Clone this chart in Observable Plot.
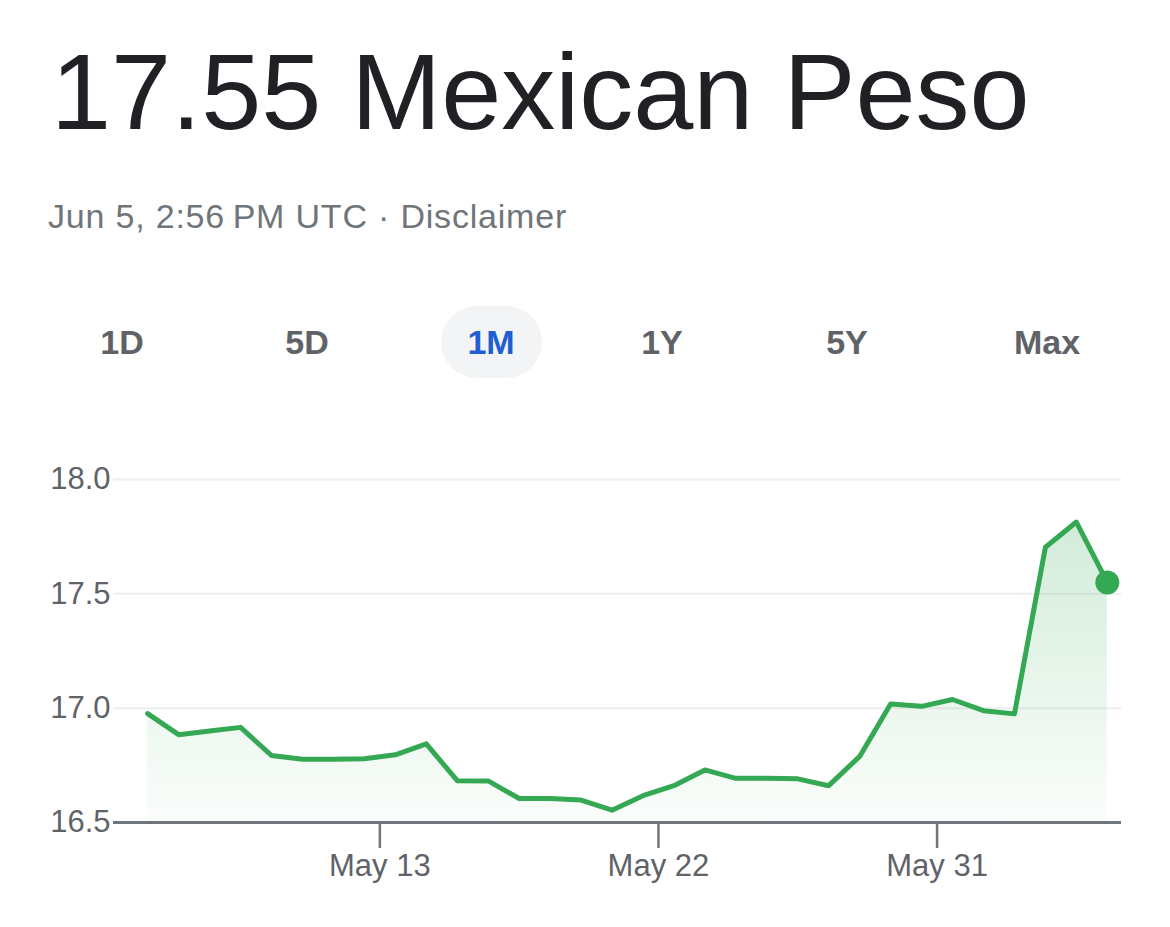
<!DOCTYPE html>
<html>
<head>
<meta charset="utf-8">
<script src="https://cdn.jsdelivr.net/npm/d3@7"></script>
<script src="https://cdn.jsdelivr.net/npm/@observablehq/plot@0.6"></script>
<style>
  html, body { margin: 0; padding: 0; background: #fff; }
  body { width: 1170px; height: 927px; position: relative; overflow: hidden;
         font-family: "Liberation Sans", Arial, Helvetica, sans-serif; }
  .abs { position: absolute; white-space: nowrap; line-height: 1; }
  #title { left: 51px; top: 37.6px; font-size: 108px; color: #202124; }
  #subtitle { left: 48px; top: 199px; font-size: 34px; color: #70757a; letter-spacing: 0.8px; }
  .tab { top: 325px; font-size: 34px; font-weight: bold; color: #5f6368; transform: translateX(-50%); }
  .tab.sel { color: #1f5fd1; }
  #pill { position: absolute; left: 441px; top: 306px; width: 101px; height: 72px;
          border-radius: 36px; background: #f3f4f5; }
  #chart { position: absolute; left: 0; top: 420px; }
</style>
</head>
<body>
<div id="title" class="abs"></div>
<div id="subtitle" class="abs"></div>
<div id="pill"></div>
<div id="tabs"></div>
<div id="chart"></div>
<script>
// ---- data ----
const titleText = "17.55 Mexican Peso";
const subtitleText = "Jun 5, 2:56\u2009PM UTC · Disclaimer";
const tabLabels = ["1D", "5D", "1M", "1Y", "5Y", "Max"];
const tabCenters = [122, 307, 491, 662, 847, 1047];
const selectedTab = "1M";

const dates = [
  "2023-05-05T12:00Z","2023-05-06T12:00Z","2023-05-07T12:00Z","2023-05-08T12:00Z",
  "2023-05-09T12:00Z","2023-05-10T12:00Z","2023-05-11T12:00Z","2023-05-12T12:00Z",
  "2023-05-13T12:00Z","2023-05-14T12:00Z","2023-05-15T12:00Z","2023-05-16T12:00Z",
  "2023-05-17T12:00Z","2023-05-18T12:00Z","2023-05-19T12:00Z","2023-05-20T12:00Z",
  "2023-05-21T12:00Z","2023-05-22T12:00Z","2023-05-23T12:00Z","2023-05-24T12:00Z",
  "2023-05-25T12:00Z","2023-05-26T12:00Z","2023-05-27T12:00Z","2023-05-28T12:00Z",
  "2023-05-29T12:00Z","2023-05-30T12:00Z","2023-05-31T12:00Z","2023-06-01T12:00Z",
  "2023-06-02T12:00Z","2023-06-03T12:00Z","2023-06-04T12:00Z","2023-06-05T12:00Z"
];
const rates = [
  16.976, 16.884, 16.900, 16.916, 16.793, 16.777, 16.777, 16.779,
  16.796, 16.844, 16.683, 16.682, 16.605, 16.605, 16.598, 16.554,
  16.617, 16.661, 16.730, 16.693, 16.693, 16.691, 16.661, 16.789,
  17.018, 17.008, 17.038, 16.989, 16.975, 17.704, 17.814, 17.550
];
const yTicks = [16.5, 17.0, 17.5, 18.0];
const xTicks = ["2023-05-13T00:00Z", "2023-05-22T00:00Z", "2023-05-31T00:00Z"];
const xDomain = ["2023-05-04T09:30Z", "2023-06-05T23:00Z"];

// ---- header ----
document.getElementById("title").textContent = titleText;
document.getElementById("subtitle").textContent = subtitleText;
const tabs = document.getElementById("tabs");
tabLabels.forEach((t, i) => {
  const d = document.createElement("div");
  d.className = "abs tab" + (t === selectedTab ? " sel" : "");
  d.style.left = tabCenters[i] + "px";
  d.textContent = t;
  tabs.appendChild(d);
});

// ---- chart ----
const data = dates.map((d, i) => ({date: new Date(d), rate: rates[i]}));
const last = data[data.length - 1];
const green = "#34a853";

const plot = Plot.plot({
  width: 1170,
  height: 500,
  marginLeft: 113,
  marginRight: 49,
  marginTop: 59,
  marginBottom: 98,
  style: {background: "#fff", color: "#5f6368", fontFamily: "'Liberation Sans', Arial, sans-serif", overflow: "visible"},
  x: {type: "utc", domain: xDomain.map(d => new Date(d)), label: null},
  y: {domain: [16.5, 18.0], label: null},
  marks: [
    Plot.gridY(yTicks.slice(1), {stroke: "#eeeeee", strokeOpacity: 1, strokeWidth: 2}),
    Plot.areaY(data, {x: "date", y1: 16.5, y2: "rate", fill: "url(#areaGrad)"}),
    Plot.line(data, {x: "date", y: "rate", stroke: green, strokeWidth: 5, strokeLinejoin: "round", strokeLinecap: "round"}),
    Plot.ruleY([16.5], {stroke: "#70757a", strokeWidth: 3}),
    Plot.axisX({ticks: xTicks.map(d => new Date(d)), tickFormat: d3.utcFormat("%b %-d"), label: null,
      tickSize: 26, tickPadding: 5, fontSize: 31, stroke: "#70757a", strokeWidth: 2.5, fill: "#5f6368"}),
    Plot.axisY({ticks: yTicks, tickFormat: d3.format(".1f"), tickSize: 0, tickPadding: 3, label: null,
      fontSize: 31, fill: "#5f6368"}),
    Plot.dot([last], {x: "date", y: "rate", r: 12, fill: green, stroke: "none"})
  ]
});

const defs = d3.select(plot).insert("defs", ":first-child");
const grad = defs.append("linearGradient").attr("id", "areaGrad")
  .attr("x1", 0).attr("y1", 0).attr("x2", 0).attr("y2", 1);
grad.append("stop").attr("offset", "0%").attr("stop-color", green).attr("stop-opacity", 0.22);
grad.append("stop").attr("offset", "100%").attr("stop-color", green).attr("stop-opacity", 0.02);

document.getElementById("chart").appendChild(plot);
</script>
</body>
</html>
